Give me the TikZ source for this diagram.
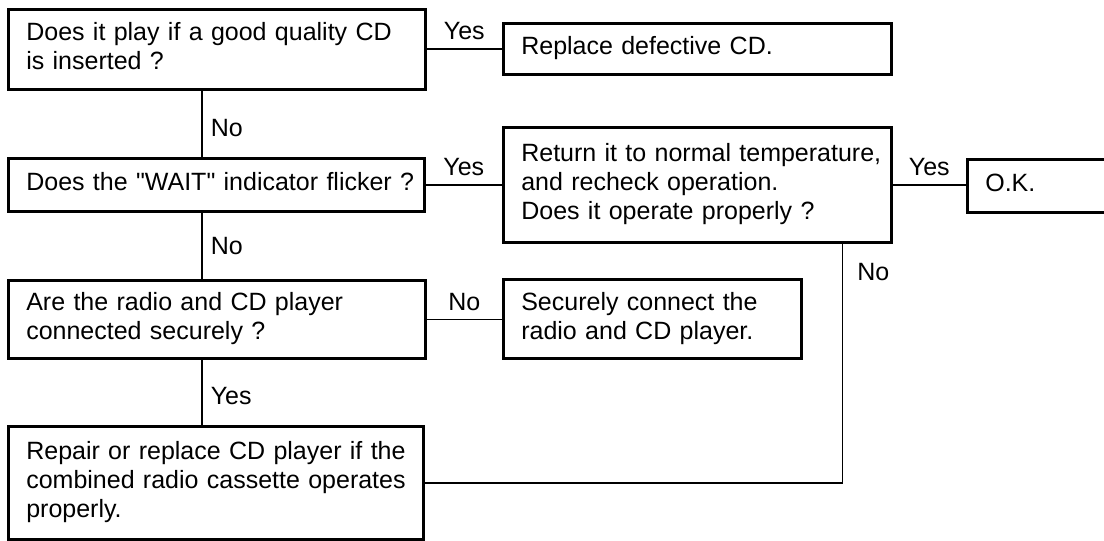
\documentclass[tikz,border=0pt]{standalone}
\usepackage{fontspec}
\setmainfont{Liberation Sans}[Ligatures=TeXOff]
\newcommand{\boxtext}[1]{\begin{tabular}{@{\hspace{9pt}}l@{}}#1\end{tabular}}

\begin{document}
\begin{tikzpicture}[x=0.5pt,y=-0.5pt,
    font=\fontsize{12.5pt}{14.5pt}\selectfont,
    qbox/.style={draw, line width=1.3pt, anchor=north west, inner xsep=0pt, inner ysep=0pt, align=left},
    link/.style={line width=0.8pt},
    ans/.style={inner sep=4pt}]
    \useasboundingbox (0,0) rectangle (1104,541);
    \clip (0,0) rectangle (1104,541);
    \node[qbox, text width=208.5pt, minimum height=40pt] (play) at (7,8) {\boxtext{Does it play if a good quality CD\\ is inserted ?}};
    \node[qbox, text width=194pt, minimum height=25.5pt] (badcd) at (502,22) {\boxtext{Replace defective CD.}};
    \node[qbox, text width=208pt, minimum height=26.5pt] (wait) at (7,157) {\boxtext{Does the "WAIT" indicator flicker ?}};
    \node[qbox, text width=194pt, minimum height=57.5pt] (temp) at (502,126) {\boxtext{Return it to normal temperature,\\ and recheck operation.\\ Does it operate properly ?}};
    \node[qbox, text width=90pt, minimum height=26.5pt] (ok) at (966,158) {\boxtext{O.K.}};
    \node[qbox, text width=208.5pt, minimum height=39pt] (conn) at (7,279) {\boxtext{Are the radio and CD player\\ connected securely ?}};
    \node[qbox, text width=149pt, minimum height=39.5pt] (fix) at (502,278) {\boxtext{Securely connect the\\ radio and CD player.}};
    \node[qbox, text width=207.5pt, minimum height=56.5pt] (repair) at (7,425) {\boxtext{Repair or replace CD player if the\\ combined radio cassette operates\\ properly.}};
    % connectors
    \coordinate (spine) at (202,0);
    \draw[link] (badcd.west -| play.east) -- node[ans,above]{Yes} (badcd.west);
    \draw[link] (wait.east) -- node[ans,above]{Yes} (wait.east -| temp.west);
    \draw[link] (temp.east) -- node[ans,above]{Yes} (temp.east -| ok.west);
    \draw[link] (conn.east) -- node[ans,above]{No} (conn.east -| fix.west);
    \draw[link] (play.south -| spine) -- node[ans,right,yshift=-2pt]{No} (wait.north -| spine);
    \draw[link] (wait.south -| spine) -- node[ans,right]{No} (conn.north -| spine);
    \draw[link] (conn.south -| spine) -- node[ans,right,yshift=-2pt]{Yes} (repair.north -| spine);
    \draw[link] ([xshift=-25pt]temp.south east) |- node[ans,right,pos=0.06,xshift=3pt]{No} (repair.east);
\end{tikzpicture}
\end{document}
